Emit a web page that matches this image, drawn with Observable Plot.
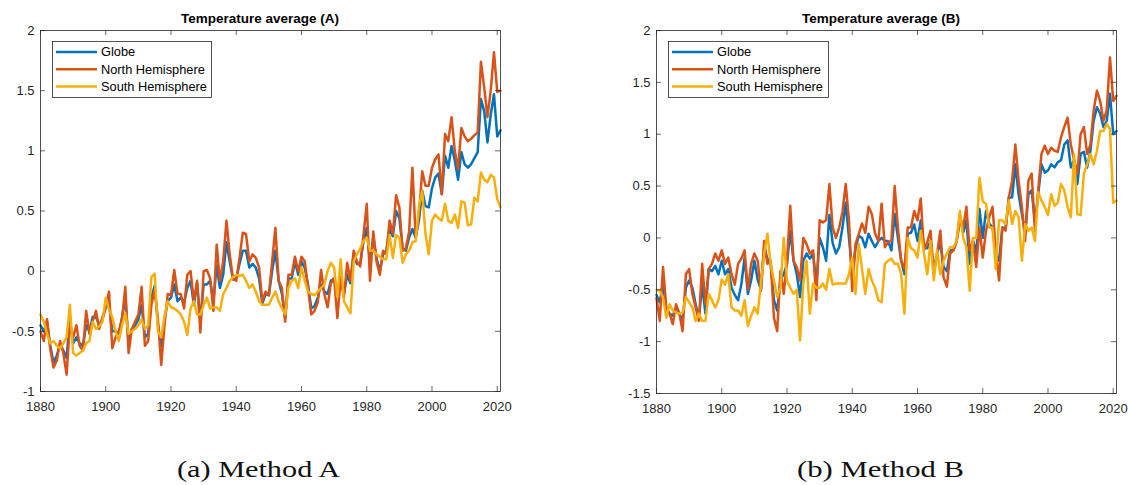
<!DOCTYPE html>
<html><head><meta charset="utf-8">
<script src="https://cdn.jsdelivr.net/npm/d3@7"></script>
<script src="https://cdn.jsdelivr.net/npm/@observablehq/plot@0.6"></script>
<style>
html,body{margin:0;padding:0;background:#fff;}
#fig{position:relative;width:1128px;height:485px;overflow:hidden;background:#fff;}
#fig > svg{position:absolute;top:0;}
#overlay{position:absolute;left:0;top:0;pointer-events:none;}
</style></head><body><div id="fig"></div>
<script>
// ---------- data ----------
const years = d3.range(1880, 2022);
const seriesNames = ["Globe", "North Hemisphere", "South Hemisphere"];
const seriesColors = ["#0072BD", "#D95319", "#F7AF0C"];
const xTicks = [1880, 1900, 1920, 1940, 1960, 1980, 2000, 2020];
const yTicksA = [-1, -0.5, 0, 0.5, 1, 1.5, 2];
const yTicksB = [-1.5, -1, -0.5, 0, 0.5, 1, 1.5, 2];
const titles = ["Temperature average (A)", "Temperature average (B)"];
const captions = ["(a) Method A", "(b) Method B"];

// Method A (1880–2021)
const globeA = [
-0.45,-0.50,-0.42,-0.62,-0.76,-0.70,-0.61,-0.66,-0.72,-0.40,
-0.60,-0.55,-0.60,-0.62,-0.45,-0.50,-0.38,-0.38,-0.45,-0.40,
-0.30,-0.27,-0.50,-0.50,-0.52,-0.38,-0.22,-0.60,-0.48,-0.45,
-0.40,-0.28,-0.55,-0.52,-0.22,-0.12,-0.45,-0.62,-0.40,-0.25,
-0.22,-0.11,-0.25,-0.22,-0.26,-0.14,-0.08,-0.28,-0.10,-0.42,
-0.11,-0.11,-0.08,-0.25,0.05,-0.14,-0.03,0.24,0.08,-0.07,
-0.06,0.06,0.17,0.17,0.03,0.06,0.03,-0.06,-0.27,-0.19,
-0.20,0.00,0.17,-0.08,-0.19,-0.39,-0.06,-0.06,0.08,-0.03,
0.08,0.03,-0.11,-0.31,-0.29,-0.22,-0.11,-0.17,-0.19,-0.08,
-0.06,-0.22,-0.05,-0.19,-0.03,-0.10,0.14,0.06,0.06,0.25,
0.36,0.06,0.28,0.11,0.00,0.14,0.17,0.35,0.29,0.50,
0.44,0.19,0.17,0.28,0.35,0.28,0.42,0.67,0.54,0.53,
0.69,0.78,0.81,0.64,0.96,0.86,1.04,0.92,0.76,0.99,
0.89,0.86,0.89,0.94,0.99,1.43,1.33,1.07,1.30,1.47,
1.12,1.17];
const northA = [
-0.50,-0.58,-0.40,-0.65,-0.80,-0.74,-0.58,-0.68,-0.86,-0.45,
-0.55,-0.45,-0.62,-0.66,-0.33,-0.52,-0.42,-0.33,-0.48,-0.38,
-0.30,-0.17,-0.64,-0.55,-0.50,-0.40,-0.13,-0.68,-0.48,-0.42,
-0.36,-0.13,-0.62,-0.58,-0.28,-0.15,-0.40,-0.78,-0.45,-0.19,
-0.20,0.01,-0.19,-0.19,-0.31,-0.03,0.00,-0.25,-0.08,-0.51,
0.00,0.01,-0.06,-0.33,0.22,-0.08,0.08,0.42,0.14,-0.06,
-0.08,0.11,0.32,0.31,0.08,0.14,0.11,0.03,-0.25,-0.17,
-0.20,0.08,0.36,-0.08,-0.14,-0.42,-0.03,-0.03,0.12,0.00,
0.12,0.08,-0.14,-0.36,-0.33,-0.26,0.01,-0.19,-0.30,-0.10,
-0.06,-0.39,-0.06,-0.22,0.07,-0.08,0.17,0.08,0.04,0.30,
0.56,-0.08,0.33,0.08,-0.03,0.17,0.14,0.42,0.31,0.63,
0.53,0.17,0.19,0.33,0.86,0.28,0.47,0.83,0.71,0.71,
0.86,0.93,0.97,0.64,1.14,1.08,1.28,1.00,0.85,1.19,
1.12,1.08,1.10,1.13,1.15,1.74,1.53,1.28,1.50,1.82,
1.49,1.50];
const southA = [
-0.36,-0.42,-0.52,-0.60,-0.58,-0.62,-0.64,-0.60,-0.55,-0.28,
-0.68,-0.70,-0.68,-0.66,-0.60,-0.58,-0.42,-0.48,-0.46,-0.42,
-0.22,-0.32,-0.38,-0.50,-0.58,-0.45,-0.35,-0.52,-0.50,-0.48,
-0.45,-0.40,-0.48,-0.45,-0.05,-0.02,-0.50,-0.55,-0.38,-0.25,
-0.30,-0.31,-0.33,-0.36,-0.42,-0.53,-0.31,-0.25,-0.36,-0.36,
-0.28,-0.22,-0.31,-0.30,-0.30,-0.33,-0.19,-0.14,-0.08,-0.05,
-0.03,-0.04,-0.03,-0.08,-0.14,-0.11,-0.17,-0.25,-0.28,-0.28,
-0.28,-0.22,-0.17,-0.25,-0.31,-0.36,-0.14,-0.08,-0.06,-0.14,
0.03,-0.08,-0.17,-0.19,-0.20,-0.17,-0.14,-0.11,0.00,0.07,
0.03,-0.22,0.10,-0.25,-0.30,-0.35,0.08,0.14,0.19,0.25,
0.28,0.17,0.17,0.14,0.12,0.10,0.10,0.30,0.11,0.30,
0.28,0.07,0.14,0.17,0.24,0.25,0.54,0.67,0.31,0.14,
0.42,0.47,0.44,0.42,0.56,0.42,0.40,0.47,0.36,0.58,
0.57,0.38,0.39,0.61,0.58,0.82,0.76,0.74,0.80,0.78,
0.60,0.53];

// Method B (1880–2021)
const globeB = [
-0.55,-0.62,-0.44,-0.70,-0.73,-0.75,-0.67,-0.73,-0.80,-0.48,
-0.41,-0.48,-0.64,-0.78,-0.45,-0.73,-0.30,-0.32,-0.27,-0.35,
-0.22,-0.35,-0.30,-0.48,-0.55,-0.60,-0.45,-0.19,-0.54,-0.41,
-0.22,-0.40,-0.50,-0.10,-0.20,-0.25,-0.60,-0.70,-0.40,-0.35,
-0.25,0.07,-0.22,-0.35,-0.57,-0.22,-0.15,-0.20,-0.15,-0.45,
0.00,-0.09,-0.22,0.22,-0.05,-0.15,-0.09,0.10,0.34,0.00,
-0.35,-0.10,0.02,0.00,-0.09,0.04,-0.03,-0.09,-0.03,0.00,
-0.03,-0.03,-0.12,0.23,0.00,-0.22,-0.35,0.04,0.05,0.13,
-0.03,0.17,-0.09,-0.10,-0.03,-0.30,-0.15,-0.05,-0.28,-0.32,
-0.12,-0.12,-0.03,0.23,0.05,0.17,-0.25,-0.02,-0.15,0.28,
0.00,0.26,0.14,0.10,-0.15,-0.22,0.10,0.09,0.39,0.39,
0.71,0.42,0.23,0.04,0.42,0.46,0.14,0.42,0.71,0.63,
0.65,0.71,0.68,0.73,0.75,0.90,0.94,0.68,0.75,0.52,
0.81,0.83,0.68,0.84,1.13,1.26,1.20,1.07,1.13,1.39,
1.00,1.03];
const northB = [
-0.58,-0.80,-0.28,-0.67,-0.73,-0.83,-0.64,-0.73,-0.90,-0.35,
-0.30,-0.54,-0.67,-0.80,-0.25,-0.64,-0.30,-0.25,-0.15,-0.22,
-0.12,-0.25,-0.19,-0.35,-0.45,-0.25,-0.20,-0.12,-0.50,-0.25,
-0.15,-0.22,-0.51,-0.03,-0.25,-0.22,-0.77,-0.90,-0.32,-0.54,
-0.22,0.31,-0.22,-0.28,-0.41,0.00,-0.06,-0.15,-0.12,-0.60,
0.17,0.15,0.17,0.52,0.10,0.00,0.10,0.25,0.52,0.17,
-0.51,-0.06,0.04,0.14,0.05,0.30,0.23,0.04,-0.03,0.33,
-0.09,-0.04,-0.03,0.50,0.10,-0.22,-0.30,0.10,0.10,0.26,
0.17,0.38,-0.12,-0.04,0.07,-0.35,-0.15,0.07,-0.38,-0.47,
-0.15,-0.12,-0.03,0.15,0.10,0.30,-0.12,-0.03,-0.28,0.10,
-0.19,0.07,0.20,0.30,-0.12,-0.41,0.10,0.07,0.39,0.55,
0.90,0.55,0.30,-0.03,0.55,0.62,0.07,0.46,0.81,0.89,
0.81,0.87,0.84,0.83,0.97,1.07,1.16,0.90,0.75,0.62,
1.00,1.07,0.81,0.90,1.23,1.42,1.32,1.13,1.23,1.74,
1.32,1.37];
const southB = [
-0.50,-0.51,-0.57,-0.77,-0.64,-0.70,-0.72,-0.73,-0.72,-0.57,
-0.62,-0.67,-0.80,-0.73,-0.80,-0.80,-0.54,-0.60,-0.67,-0.60,
-0.40,-0.45,-0.35,-0.67,-0.70,-0.70,-0.75,-0.60,-0.85,-0.75,
-0.67,-0.73,-0.44,-0.15,0.04,-0.25,-0.41,-0.57,-0.48,0.00,
-0.41,-0.48,-0.54,-0.50,-0.99,-0.44,-0.22,-0.73,-0.44,-0.48,
-0.48,-0.44,-0.50,-0.30,-0.45,-0.44,-0.44,-0.44,-0.44,-0.35,
-0.19,-0.54,-0.06,-0.30,-0.54,-0.30,-0.41,-0.48,-0.60,-0.62,
-0.25,-0.22,-0.20,-0.25,-0.25,-0.35,-0.73,0.00,-0.10,-0.12,
-0.19,0.07,-0.15,-0.35,-0.03,-0.41,-0.12,-0.35,-0.22,-0.15,
-0.09,-0.09,-0.03,0.26,0.00,-0.09,-0.51,0.00,0.00,0.58,
0.35,0.33,0.10,0.10,-0.30,0.17,0.17,0.135,0.36,0.135,
0.26,0.20,-0.22,0.135,0.07,0.10,-0.03,0.44,0.36,0.30,
0.22,0.42,0.31,0.34,0.52,0.46,0.30,0.20,0.81,0.23,
0.22,0.62,0.71,0.81,0.71,0.84,1.03,1.03,1.10,1.05,
0.34,0.36];

// ---------- build ----------
const axisColor = "#262626";
function rowsFor(globe, north, south) {
  const rows = [];
  [globe, north, south].forEach((vals, k) => {
    years.forEach((yr, i) => rows.push({year: yr, series: seriesNames[k], value: vals[i]}));
  });
  return rows;
}

function panel({rows, yDomain, yTicks, width, marginLeft, marginRight, marginBottom}) {
  const xd = [years[0], years[years.length - 1]];
  const fmt = d => String(d);
  const tickStyle = {stroke: axisColor, strokeWidth: 0.7};
  return Plot.plot({
    width, height: 420,
    marginTop: 30, marginLeft, marginRight, marginBottom,
    style: {fontFamily: "'Liberation Sans', Arial, Helvetica, sans-serif", fontSize: "13px", color: axisColor, background: "transparent", overflow: "visible"},
    x: {domain: xd, label: null},
    y: {domain: yDomain, label: null},
    color: {domain: seriesNames, range: seriesColors},
    marks: [
      Plot.lineY(rows, {x: "year", y: "value", stroke: "series", z: "series", strokeWidth: 2.5, strokeLinejoin: "round", strokeLinecap: "round"}),
      Plot.frame({stroke: axisColor, strokeWidth: 0.8}),
      Plot.ruleX(xTicks, {x: d => d, y1: () => yDomain[0], y2: () => yDomain[0], insetBottom: 5, ...tickStyle}),
      Plot.ruleX(xTicks, {x: d => d, y1: () => yDomain[1], y2: () => yDomain[1], insetTop: 5, ...tickStyle}),
      Plot.ruleY(yTicks, {y: d => d, x1: () => xd[0], x2: () => xd[0], insetRight: -5, ...tickStyle}),
      Plot.ruleY(yTicks, {y: d => d, x1: () => xd[1], x2: () => xd[1], insetLeft: -5, ...tickStyle}),
      Plot.axisX(xTicks, {tickSize: 0, tickPadding: 10, tickFormat: fmt, label: null, fill: axisColor}),
      Plot.axisY(yTicks, {tickSize: 0, tickPadding: 6, tickFormat: fmt, label: null, fill: axisColor})
    ]
  });
}

const fig = document.getElementById("fig");
const pA = panel({rows: rowsFor(globeA, northA, southA), yDomain: [-1, 2], yTicks: yTicksA, width: 530, marginLeft: 40, marginRight: 30, marginBottom: 29});
pA.style.left = "0px";
fig.appendChild(pA);
const pB = panel({rows: rowsFor(globeB, northB, southB), yDomain: [-1.5, 2], yTicks: yTicksB, width: 528, marginLeft: 56, marginRight: 12, marginBottom: 27});
pB.style.left = "600px";
fig.appendChild(pB);

// ---------- overlay: titles, legends, captions ----------
const svg = d3.select(fig).append("svg").attr("id", "overlay").attr("width", 1128).attr("height", 485);
const panels = [
  {title: titles[0], cx: 260, legend: {x: 52, y: 41, w: 159, h: 56}, cap: {x: 177, len: 163}},
  {title: titles[1], cx: 881, legend: {x: 668, y: 41, w: 160, h: 56}, cap: {x: 797, len: 167}}
];
panels.forEach((p, k) => {
  svg.append("text").attr("x", p.cx).attr("y", 23).attr("text-anchor", "middle")
    .attr("font-family", "'Liberation Sans', Arial, sans-serif").attr("font-weight", "bold")
    .attr("font-size", 13.5).attr("fill", "#000").text(p.title);
  const g = svg.append("g").attr("transform", `translate(${p.legend.x},${p.legend.y})`);
  g.append("rect").attr("x", 0.5).attr("y", 0.5).attr("width", p.legend.w).attr("height", p.legend.h)
    .attr("fill", "#fff").attr("stroke", axisColor).attr("stroke-width", 0.8);
  seriesNames.forEach((name, i) => {
    const cy = 11 + i * 17.3;
    g.append("line").attr("x1", 4).attr("x2", 45).attr("y1", cy).attr("y2", cy)
      .attr("stroke", seriesColors[i]).attr("stroke-width", 2.5);
    g.append("text").attr("x", 49).attr("y", cy).attr("dy", "0.35em")
      .attr("font-family", "'Liberation Sans', Arial, sans-serif").attr("font-size", 12.8)
      .attr("fill", "#000").text(name);
  });
  svg.append("text").attr("x", p.cap.x).attr("y", 477)
    .attr("font-family", "'Liberation Serif', 'Times New Roman', serif").attr("font-size", 23)
    .attr("font-weight", 300)
    .attr("textLength", p.cap.len).attr("lengthAdjust", "spacingAndGlyphs")
    .attr("fill", "#111").text(captions[k]);
});
</script></body></html>
